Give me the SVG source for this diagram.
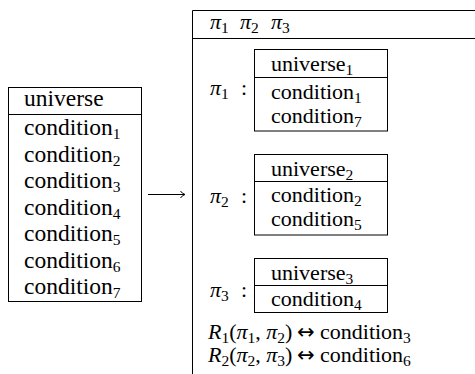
<svg xmlns="http://www.w3.org/2000/svg" width="475" height="374" viewBox="0 0 475 374" font-family="Liberation Serif, Times New Roman, serif">
<style>
text{fill:#000}
.l{font-size:23.5px}
.r{font-size:22px}
.i{font-style:italic}
.s{font-size:15.5px}
.a{font-family:DejaVu Sans,sans-serif;font-size:21px}
.b{fill:none;stroke:#000;stroke-width:1}
</style>
<rect width="475" height="374" fill="#fff"/>
<g id="source">
<rect class="b" x="8.5" y="87.5" width="133" height="214"/>
<line class="b" x1="8" y1="114.5" x2="142" y2="114.5"/>
<text class="l" x="24" y="106">universe</text>
<text class="l" x="24" y="135">condition<tspan class="s" dy="4">1</tspan></text>
<text class="l" x="24" y="161.5">condition<tspan class="s" dy="4">2</tspan></text>
<text class="l" x="24" y="188">condition<tspan class="s" dy="4">3</tspan></text>
<text class="l" x="24" y="214.5">condition<tspan class="s" dy="4">4</tspan></text>
<text class="l" x="24" y="241">condition<tspan class="s" dy="4">5</tspan></text>
<text class="l" x="24" y="267.5">condition<tspan class="s" dy="4">6</tspan></text>
<text class="l" x="24" y="294">condition<tspan class="s" dy="4">7</tspan></text>
</g>
<g id="connectors">
<line class="b" x1="148" y1="194.5" x2="184" y2="194.5"/>
<path class="b" d="M180.5,191 Q182,193.5 185,194.5 Q182,195.5 180.5,198"/>
</g>
<g id="target">
<path class="b" d="M475,10.5 H192.5 V374"/>
<line class="b" x1="192" y1="38.5" x2="475" y2="38.5"/>
<text class="r" y="29"><tspan class="i" x="210">π</tspan><tspan class="s" dy="4">1</tspan><tspan class="i" x="240" dy="-4">π</tspan><tspan class="s" dy="4">2</tspan><tspan class="i" x="271" dy="-4">π</tspan><tspan class="s" dy="4">3</tspan></text>
</g>
<g id="pi1">
<text class="r" y="95"><tspan class="i" x="210">π</tspan><tspan class="s" dy="4">1</tspan><tspan x="241" dy="-4">:</tspan></text>
<rect class="b" x="254.5" y="49.5" width="133" height="81.5"/>
<line class="b" x1="254" y1="77.5" x2="388" y2="77.5"/>
<text class="r" x="271" y="71">universe<tspan class="s" dy="4">1</tspan></text>
<text class="r" x="271" y="99">condition<tspan class="s" dy="4">1</tspan></text>
<text class="r" x="271" y="122.5">condition<tspan class="s" dy="4">7</tspan></text>
</g>
<g id="pi2">
<text class="r" y="203"><tspan class="i" x="210">π</tspan><tspan class="s" dy="4">2</tspan><tspan x="241" dy="-4">:</tspan></text>
<rect class="b" x="254.5" y="154.5" width="133" height="80.5"/>
<line class="b" x1="254" y1="181.5" x2="388" y2="181.5"/>
<text class="r" x="271" y="176">universe<tspan class="s" dy="4">2</tspan></text>
<text class="r" x="271" y="202">condition<tspan class="s" dy="4">2</tspan></text>
<text class="r" x="271" y="225.5">condition<tspan class="s" dy="4">5</tspan></text>
</g>
<g id="pi3">
<text class="r" y="297"><tspan class="i" x="210">π</tspan><tspan class="s" dy="4">3</tspan><tspan x="241" dy="-4">:</tspan></text>
<rect class="b" x="254.5" y="258.5" width="133" height="54"/>
<line class="b" x1="254" y1="285.5" x2="388" y2="285.5"/>
<text class="r" x="271" y="280">universe<tspan class="s" dy="4">3</tspan></text>
<text class="r" x="271" y="306">condition<tspan class="s" dy="4">4</tspan></text>
</g>
<g id="relations">
<text class="r" y="339"><tspan class="i" x="208">R</tspan><tspan class="s" dy="4">1</tspan><tspan dy="-4">(</tspan><tspan class="i">π</tspan><tspan class="s" dy="4">1</tspan><tspan dy="-4" xml:space="preserve">, </tspan><tspan class="i">π</tspan><tspan class="s" dy="4">2</tspan><tspan dy="-4">)</tspan><tspan class="a" x="297">↔</tspan><tspan x="320">condition</tspan><tspan class="s" dy="4">3</tspan></text>
<text class="r" y="362"><tspan class="i" x="208">R</tspan><tspan class="s" dy="4">2</tspan><tspan dy="-4">(</tspan><tspan class="i">π</tspan><tspan class="s" dy="4">2</tspan><tspan dy="-4" xml:space="preserve">, </tspan><tspan class="i">π</tspan><tspan class="s" dy="4">3</tspan><tspan dy="-4">)</tspan><tspan class="a" x="297">↔</tspan><tspan x="320">condition</tspan><tspan class="s" dy="4">6</tspan></text>
</g>
</svg>
